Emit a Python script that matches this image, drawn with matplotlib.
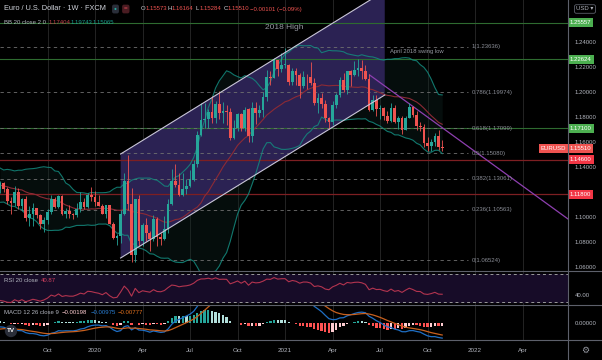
import numpy as np
import pandas as pd
import matplotlib
matplotlib.use('Agg')
import matplotlib.pyplot as plt
import matplotlib.dates as mdates
import matplotlib.transforms as mtransforms
from matplotlib.lines import Line2D
from matplotlib.patches import Polygon
from matplotlib import font_manager

# ---------------- data (EURUSD weekly, FXCM) ----------------
# closes Jan-Jul 2019, only used to warm up BB / RSI / MACD
warmup_close = [1.1468, 1.1362, 1.1406, 1.1456, 1.1325, 1.1295, 1.1335, 1.1365, 1.1235, 1.1325,
                1.1300, 1.1218, 1.1215, 1.1300, 1.1245, 1.1150, 1.1200, 1.1235, 1.1157, 1.1205,
                1.1170, 1.1335, 1.1210, 1.1370, 1.1370, 1.1225]
first_week = '2019-01-07'

# visible candles, week of 2019-07-08 .. week of 2021-11-01
closes = [1.1270, 1.1220, 1.1127, 1.1108, 1.1200, 1.1090, 1.1143, 1.0990, 1.1027, 1.1073,
          1.1017, 1.0940, 1.0978, 1.1040, 1.1145, 1.1080, 1.1165, 1.1020, 1.1050, 1.1020,
          1.1018, 1.1060, 1.1120, 1.1080, 1.1175, 1.1160,
          1.1120, 1.1090, 1.1025, 1.1093, 1.0945, 1.0830, 1.0847, 1.1025, 1.1285, 1.1105,
          1.0695, 1.1140, 1.0805, 1.0935, 1.0875, 1.0820, 1.0985, 1.0840, 1.0820, 1.0900,
          1.1100, 1.1290, 1.1255, 1.1175, 1.1220, 1.1245, 1.1300, 1.1425, 1.1655, 1.1775,
          1.1785, 1.1840, 1.1795, 1.1905, 1.1835, 1.1845, 1.1840, 1.1630, 1.1715, 1.1825,
          1.1715, 1.1860, 1.1645, 1.1875, 1.1830, 1.1855, 1.1960, 1.2120, 1.2110, 1.2255,
          1.2185, 1.2215,
          1.2220, 1.2080, 1.2170, 1.2135, 1.2045, 1.2120, 1.2118, 1.2075, 1.1915, 1.1950,
          1.1905, 1.1795, 1.1760, 1.1900, 1.1980, 1.2095, 1.2020, 1.2165, 1.2140, 1.2180,
          1.2190, 1.2165, 1.2105, 1.1860, 1.1935, 1.1865, 1.1875, 1.1810, 1.1770, 1.1870,
          1.1760, 1.1795, 1.1700, 1.1795, 1.1880, 1.1815, 1.1725, 1.1720, 1.1595, 1.1570,
          1.1600, 1.1645, 1.1558, 1.1551]
highs = [1.1285, 1.1282, 1.1240, 1.1162, 1.1250, 1.1230, 1.1153, 1.1165, 1.1085, 1.1110,
         1.1075, 1.1025, 1.0999, 1.1063, 1.1179, 1.1163, 1.1175, 1.1176, 1.1075, 1.1097,
         1.1032, 1.1110, 1.1200, 1.1150, 1.1189, 1.1240,
         1.1205, 1.1173, 1.1100, 1.1096, 1.1095, 1.0960, 1.0865, 1.1053, 1.1355, 1.1496,
         1.1236, 1.1147, 1.1173, 1.0952, 1.0990, 1.0890, 1.1019, 1.1000, 1.0875, 1.1008,
         1.1147, 1.1384, 1.1422, 1.1350, 1.1349, 1.1303, 1.1375, 1.1452, 1.1690, 1.1908,
         1.1916, 1.1865, 1.1965, 1.1925, 1.2011, 1.1917, 1.1900, 1.1870, 1.1780, 1.1830,
         1.1830, 1.1880, 1.1870, 1.1920, 1.1920, 1.1895, 1.2002, 1.2177, 1.2165, 1.2273,
         1.2260, 1.2310,
         1.2349, 1.2224, 1.2190, 1.2190, 1.2150, 1.2170, 1.2145, 1.2243, 1.2115, 1.1990,
         1.1990, 1.1940, 1.1800, 1.1927, 1.1995, 1.2117, 1.2150, 1.2170, 1.2180, 1.2245,
         1.2266, 1.2255, 1.2218, 1.2145, 1.1975, 1.1975, 1.1895, 1.1880, 1.1850, 1.1909,
         1.1900, 1.1805, 1.1805, 1.1810, 1.1909, 1.1885, 1.1850, 1.1760, 1.1745, 1.1640,
         1.1625, 1.1670, 1.1692, 1.1616]
lows = [1.1193, 1.1200, 1.1101, 1.1027, 1.1090, 1.1066, 1.1052, 1.0965, 1.0926, 1.0927,
        1.0990, 1.0905, 1.0879, 1.0940, 1.1025, 1.1072, 1.1070, 1.1015, 1.0989, 1.0996,
        1.0981, 1.1000, 1.1040, 1.1066, 1.1070, 1.1125,
        1.1085, 1.1085, 1.1020, 1.0992, 1.0940, 1.0827, 1.0778, 1.0795, 1.1015, 1.1055,
        1.0636, 1.0637, 1.0768, 1.0770, 1.0812, 1.0727, 1.0810, 1.0767, 1.0774, 1.0815,
        1.0870, 1.1095, 1.1240, 1.1167, 1.1170, 1.1185, 1.1240, 1.1290, 1.1400, 1.1645,
        1.1708, 1.1710, 1.1755, 1.1750, 1.1782, 1.1753, 1.1737, 1.1612, 1.1625, 1.1685,
        1.1689, 1.1690, 1.1603, 1.1603, 1.1745, 1.1800, 1.1800, 1.1925, 1.2060, 1.2110,
        1.2130, 1.2160,
        1.2193, 1.2055, 1.2055, 1.2057, 1.1952, 1.2030, 1.2023, 1.2060, 1.1893, 1.1835,
        1.1875, 1.1760, 1.1704, 1.1740, 1.1870, 1.1960, 1.2000, 1.1985, 1.2050, 1.2125,
        1.2130, 1.2105, 1.2095, 1.1847, 1.1845, 1.1807, 1.1782, 1.1772, 1.1752, 1.1760,
        1.1755, 1.1706, 1.1664, 1.1695, 1.1790, 1.1800, 1.1700, 1.1685, 1.1563, 1.1530,
        1.1524, 1.1570, 1.1535, 1.1528]

green_levels = [1.25557, 1.22624, 1.17100]
red_levels = [1.14600, 1.11800]
last_price = 1.15510

fib_ratios = ['1', '0.786', '0.618', '0.5', '0.382', '0.236', '0']
fib_prices = [1.23636, 1.19974, 1.17099, 1.15080, 1.13061, 1.10563, 1.06524]

# ascending channel (two dates, lower/upper prices at each)
channel_dates = ['2020-02-24', '2021-07-14']
channel_low = [1.0672, 1.1976]
channel_high = [1.1504, 1.2808]
# falling trendline anchors
trend_dates = ['2021-06-15', '2022-06-30']
trend_prices = [1.2136, 1.0984]

notes = [('2021-01-02', 1.2512, '2018 High', 'center', 6.0),
         ('2021-07-24', 1.2328, 'April 2018 swing low', 'left', 4.2)]

# scale labels that are not hidden behind the coloured price tags
price_ticks = [1.06, 1.08, 1.10, 1.14, 1.16, 1.18, 1.20, 1.22, 1.24]
tick_dates = ['2019-10-07', '2020-01-06', '2020-04-06', '2020-07-06', '2020-10-05', '2021-01-04',
              '2021-04-05', '2021-07-05', '2021-10-04', '2022-01-03', '2022-04-04']
tick_labels = ['Oct', '2020', 'Apr', 'Jul', 'Oct', '2021', 'Apr', 'Jul', 'Oct', '2022', 'Apr']

# ---------------- indicators ----------------
close_all = pd.Series(warmup_close + closes, dtype=float)
all_dates = pd.date_range(first_week, periods=len(close_all), freq='7D')

basis = close_all.rolling(20).mean()
dev = close_all.rolling(20).std(ddof=0)
bb_up = basis + 2 * dev
bb_lo = basis - 2 * dev

delta = close_all.diff()
gain = delta.clip(lower=0).ewm(alpha=1 / 20, adjust=False).mean()
loss = (-delta.clip(upper=0)).ewm(alpha=1 / 20, adjust=False).mean()
rsi = 100 - 100 / (1 + gain / loss)

macd = close_all.ewm(span=12, adjust=False).mean() - close_all.ewm(span=26, adjust=False).mean()
signal = macd.ewm(span=9, adjust=False).mean()
hist = macd - signal

sl = slice(len(warmup_close), None)
dates = mdates.date2num(all_dates[sl])
c = np.array(closes)
o = close_all.shift(1).values[sl]   # weekly FX open = previous close
h = np.array(highs)
l = np.array(lows)

# ---------------- style ----------------
def have(name):
    try:
        font_manager.findfont(name, fallback_to_default=False)
        return True
    except Exception:
        return False

base_font = 'Liberation Sans Narrow' if have('Liberation Sans Narrow') else 'Liberation Sans'
plt.rcParams['font.family'] = [base_font, 'DejaVu Sans']

BG = '#000000'
TXT = '#b2b5be'
UP = '#26a69a'
DOWN = '#ef5350'
GREEN_BOX = '#4caf50'
RED_BOX = '#f23645'
SEP = '#5d606b'
GRID = '#242424'

W, H = 602, 360
fig = plt.figure(figsize=(W / 100, H / 100), dpi=100, facecolor=BG)

def box(x0, y0, x1, y1):
    return [x0 / W, 1 - y1 / H, (x1 - x0) / W, (y1 - y0) / H]

def ftext(x, y, s, **kw):
    kw.setdefault('va', 'center')
    kw.setdefault('ha', 'left')
    return fig.text(x / W, 1 - y / H, s, **kw)

ax = fig.add_axes(box(0, 0, 568, 271))
ax_rsi = fig.add_axes(box(0, 271, 568, 305))
ax_macd = fig.add_axes(box(0, 305, 568, 340))

x0, x1 = mdates.date2num(pd.Timestamp('2019-07-08')), mdates.date2num(pd.Timestamp('2022-06-30'))
tick_x = mdates.date2num(pd.to_datetime(tick_dates))
for a in (ax, ax_rsi, ax_macd):
    a.set_facecolor(BG)
    for s in a.spines.values():
        s.set_visible(False)
    a.set_xlim(x0, x1)
    for tx in tick_x:
        a.axvline(tx, color=GRID, lw=0.7, zorder=0)
    a.yaxis.tick_right()
    a.tick_params(axis='y', length=0, pad=5, labelsize=4.3, labelcolor=TXT)
    a.tick_params(axis='x', length=0)
    a.set_xticks([])

# ---------------- price pane ----------------
ax.set_ylim(1.0568, 1.2736)
ax.set_yticks(price_ticks)
ax.set_yticklabels([f'{v:.5f}' for v in price_ticks])

ax.fill_between(dates, bb_lo.values[sl], bb_up.values[sl], color='#0f2824', alpha=0.35, lw=0, zorder=1)

cd = mdates.date2num(pd.to_datetime(channel_dates))
ax.add_patch(Polygon([(cd[0], channel_low[0]), (cd[1], channel_low[1]),
                      (cd[1], channel_high[1]), (cd[0], channel_high[0])],
                     closed=True, fc='#2b2253', ec='none', zorder=1.5))
ax.plot(cd, channel_low, color='#c9c6d8', lw=0.8, zorder=6)
ax.plot(cd, channel_high, color='#c9c6d8', lw=0.8, zorder=6)

for v in green_levels:
    ax.axhline(v, color='#2e6b30', lw=0.8, zorder=2)
for v in red_levels:
    ax.axhline(v, color='#7d1f22', lw=0.9, zorder=2)

fib_end = mdates.date2num(pd.Timestamp('2021-12-20'))
fib_lab = mdates.date2num(pd.Timestamp('2021-12-27'))
for r, v in zip(fib_ratios, fib_prices):
    ax.plot([x0, fib_end], [v, v], color='#707070', lw=0.6, ls=(0, (4, 4)), zorder=2.5)
    ax.text(fib_lab, v, f'{r}({v:.5f})', color='#8a8d96', fontsize=4.3, va='center', ha='left', zorder=7)

ax.plot(dates, basis.values[sl], color='#8c2a35', lw=0.8, zorder=3)
ax.plot(dates, bb_up.values[sl], color='#138a7e', lw=0.8, alpha=0.85, zorder=3)
ax.plot(dates, bb_lo.values[sl], color='#138a7e', lw=0.8, alpha=0.85, zorder=3)

td = mdates.date2num(pd.to_datetime(trend_dates))
ax.plot(td, trend_prices, color='#8e3fb0', lw=0.9, zorder=3.5)

col = np.where(c >= o, UP, DOWN)
ax.vlines(dates, l, h, colors=col, lw=0.6, zorder=4)
body = np.maximum(np.abs(c - o), 0.0003)
ax.bar(dates, body, bottom=np.minimum(o, c), width=5.2, color=col, lw=0, zorder=5)

for d, p, s, ha, fs in notes:
    ax.text(mdates.date2num(pd.Timestamp(d)), p, s, color='#9598a1', fontsize=fs, ha=ha, va='center', zorder=7)

# right-side price labels
blend = mtransforms.blended_transform_factory(ax.transAxes, ax.transData)
def price_tag(v, fc, txt=None):
    ax.text(1.003, v, txt or f'{v:.5f}', transform=blend, ha='left', va='center', fontsize=4.3,
            color='white', clip_on=False, zorder=20,
            bbox=dict(boxstyle='square,pad=0.35', fc=fc, ec='none'))
for v in green_levels:
    price_tag(v, GREEN_BOX)
for v in red_levels:
    price_tag(v, RED_BOX)
price_tag(last_price, '#ef5350')
ax.text(0.997, last_price, 'EURUSD', transform=blend, ha='right', va='center', fontsize=4.3,
        color='white', clip_on=False, zorder=20, bbox=dict(boxstyle='square,pad=0.35', fc='#ef5350', ec='none'))

# ---------------- RSI pane ----------------
ax_rsi.set_ylim(25, 75)
ax_rsi.axhspan(30, 70, color='#170c28', zorder=0.5)
for v in (30, 70):
    ax_rsi.axhline(v, color='#9a9a9a', lw=0.7, ls=(0, (3, 3)), zorder=1)
ax_rsi.plot(dates, rsi.values[sl], color='#b3344f', lw=0.8, zorder=3)
ax_rsi.set_yticks([40])
ax_rsi.set_yticklabels(['40.00'])

# ---------------- MACD pane ----------------
ax_macd.set_ylim(-0.0110, 0.0117)
hv = hist.values[sl]
hp = hist.shift(1).values[sl]
hcol = np.where(hv >= 0, np.where(hp < hv, '#26a69a', '#b2dfdb'), np.where(hp < hv, '#ffcdd2', '#ff5252'))
ax_macd.bar(dates, hv, width=4.4, color=hcol, lw=0, zorder=2)
ax_macd.plot(dates, macd.values[sl], color='#1f6fc5', lw=0.9, zorder=3)
ax_macd.plot(dates, signal.values[sl], color='#c8601e', lw=0.9, zorder=3)
ax_macd.set_yticks([0])
ax_macd.set_yticklabels(['0.00000'])
ax_macd.set_xticks(tick_x)
ax_macd.set_xticklabels(tick_labels)
ax_macd.tick_params(axis='x', colors=TXT, labelsize=4.5, pad=5.5)

# ---------------- frame lines ----------------
for y in (271, 305, 340):
    fig.add_artist(Line2D([0, 1], [1 - y / H] * 2, color=SEP, lw=0.8, transform=fig.transFigure))
fig.add_artist(Line2D([568 / W] * 2, [0, 1], color=SEP, lw=0.8, transform=fig.transFigure))

# ---------------- header / legends ----------------
ftext(4, 9, 'Euro / U.S. Dollar · 1W · FXCM', color='#d1d4dc', fontsize=5.3)
ftext(114, 9, '●', color=UP, fontsize=3.5,
      bbox=dict(boxstyle='round,pad=0.4', fc='#2a2e39', ec='none'))
ftext(124, 9, '=', color='#f7525f', fontsize=4.5,
      bbox=dict(boxstyle='round,pad=0.3', fc='#4a1c22', ec='none'))
for x, s, cc in [(141, 'O', '#d1d4dc'), (145.5, '1.15573', DOWN), (167.5, 'H', '#d1d4dc'),
                 (171.5, '1.16164', DOWN), (196, 'L', '#d1d4dc'), (200, '1.15284', DOWN),
                 (224, 'C', '#d1d4dc'), (228, '1.15510', DOWN), (250, '−0.00101 (−0.09%)', DOWN)]:
    ftext(x, 9, s, color=cc, fontsize=4.3)

ftext(4, 23, 'BB 20 close 2 0', color=TXT, fontsize=4.3)
ftext(49, 23, '1.17404', color='#c0404a', fontsize=4.3)
ftext(71, 23, '1.19743', color='#1a9e8f', fontsize=4.3)
ftext(93, 23, '1.15065', color='#1a9e8f', fontsize=4.3)

ftext(4, 280, 'RSI 20 close', color=TXT, fontsize=4.3)
ftext(41, 280, '40.87', color='#d0405f', fontsize=4.3)

ftext(4, 313, 'MACD 12 26 close 9', color=TXT, fontsize=4.3)
ftext(62, 313, '−0.00198', color='#ffcdd2', fontsize=4.3)
ftext(91, 313, '−0.00975', color='#2a7fd5', fontsize=4.3)
ftext(118, 313, '−0.00777', color='#e0701e', fontsize=4.3)

ftext(11, 331, 'TV', color='white', fontsize=4.5, fontweight='bold', ha='center',
      bbox=dict(boxstyle='circle,pad=0.35', fc='#2a2e39', ec='none'))
ftext(585, 9, 'USD ▾', color=TXT, fontsize=4.3, ha='center',
      bbox=dict(boxstyle='round,pad=0.3', fc=BG, ec='#5d606b', lw=0.6))
ftext(585, 350, '⚙', color='#9598a1', fontsize=6.5, ha='center', family='DejaVu Sans')

fig.savefig('out.png', dpi=100, facecolor=BG)
